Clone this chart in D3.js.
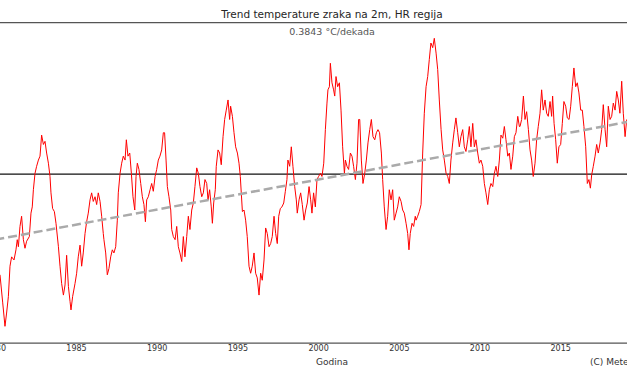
<!DOCTYPE html>
<html lang="hr">
<head>
    <meta charset="UTF-8">
    <title>Trend temperature zraka na 2m, HR regija</title>
    <script src="https://d3js.org/d3.v7.min.js"></script>
    <style>
        body { margin: 0; background: #fff; }
        svg { display: block; font-family: "DejaVu Sans", sans-serif; }
        .tick text { font-size: 8px; fill: #333; }
    </style>
</head>
<body>
    <svg id="chart" width="627" height="376"></svg>
    <script>
        // Anomalija temperature (°C), pomični srednjak, očitano sa slike: [godina, vrijednost]
        const series = [
            [1980.29,-1.29],[1980.46,-1.65],[1980.60,-1.95],[1980.70,-1.78],[1980.81,-1.57],[1980.91,-1.18],
            [1981.01,-1.06],[1981.16,-1.10],[1981.28,-0.97],[1981.36,-0.84],[1981.43,-0.93],[1981.53,-0.67],
            [1981.63,-0.54],[1981.74,-0.84],[1981.84,-0.95],[1981.94,-0.86],[1982.11,-0.80],[1982.21,-0.50],
            [1982.29,-0.42],[1982.36,-0.20],[1982.46,0.01],[1982.56,0.10],[1982.67,0.18],[1982.77,0.23],
            [1982.87,0.50],[1982.98,0.38],[1983.08,0.42],[1983.18,0.27],[1983.29,0.14],[1983.39,-0.03],
            [1983.45,-0.24],[1983.55,-0.44],[1983.66,-0.48],[1983.76,-0.63],[1983.91,-0.93],[1984.01,-1.18],
            [1984.11,-1.40],[1984.22,-1.55],[1984.32,-1.42],[1984.42,-1.04],[1984.53,-1.44],[1984.63,-1.63],
            [1984.69,-1.74],[1984.79,-1.57],[1984.94,-1.40],[1985.04,-1.27],[1985.14,-1.06],[1985.25,-0.91],
            [1985.35,-1.18],[1985.45,-1.01],[1985.56,-0.76],[1985.66,-0.61],[1985.76,-0.50],[1985.87,-0.33],
            [1985.97,-0.24],[1986.07,-0.35],[1986.18,-0.29],[1986.28,-0.39],[1986.38,-0.24],[1986.49,-0.35],
            [1986.59,-0.54],[1986.69,-0.76],
            [1986.73,-0.84],[1986.84,-1.01],[1986.94,-1.29],[1987.04,-1.21],[1987.15,-1.06],[1987.25,-0.97],
            [1987.35,-1.01],[1987.46,-0.93],[1987.56,-0.59],[1987.62,-0.24],[1987.73,0.01],[1987.83,0.14],
            [1987.93,0.23],[1988.04,0.18],[1988.12,0.44],[1988.22,0.23],[1988.33,0.27],[1988.43,0.01],
            [1988.53,-0.29],[1988.64,-0.46],[1988.72,-0.03],[1988.80,0.14],[1988.90,0.06],[1989.01,-0.12],
            [1989.11,-0.29],[1989.21,-0.39],[1989.30,-0.61],[1989.38,-0.33],[1989.48,-0.29],[1989.59,-0.20],
            [1989.69,-0.12],[1989.79,-0.22],[1989.90,-0.03],[1990.00,0.06],[1990.10,0.18],[1990.20,0.23],
            [1990.31,0.31],[1990.41,0.53],[1990.49,0.53],[1990.58,0.18],[1990.66,-0.16],[1990.76,-0.29],
            [1990.87,-0.46],[1990.93,-0.71],[1991.03,-0.80],[1991.14,-0.84],[1991.24,-0.67],[1991.34,-0.93],
            [1991.44,-1.01],[1991.55,-1.12],[1991.65,-0.80],[1991.75,-1.06],[1991.86,-0.80],[1991.96,-0.54],
            [1992.06,-0.71],[1992.17,-0.46],[1992.27,-0.37],[1992.37,-0.16],[1992.48,0.08],[1992.58,0.01],
            [1992.68,-0.16],[1992.79,-0.29],[1992.89,-0.24],[1992.99,-0.07],[1993.10,-0.12],
            [1993.18,-0.33],[1993.28,-0.20],[1993.38,-0.42],[1993.45,-0.63],[1993.53,-0.37],[1993.63,-0.20],
            [1993.69,0.10],[1993.80,0.31],[1993.90,0.27],[1994.00,0.12],[1994.11,0.48],[1994.21,0.70],
            [1994.31,0.82],[1994.42,0.95],[1994.52,0.70],[1994.58,0.87],[1994.69,0.74],[1994.79,0.53],
            [1994.89,0.35],[1995.00,0.27],[1995.10,0.14],[1995.18,-0.03],[1995.24,-0.24],[1995.31,-0.48],
            [1995.41,-0.46],[1995.51,-0.59],[1995.61,-0.80],[1995.72,-1.18],[1995.82,-1.27],[1995.92,-1.18],
            [1996.03,-1.01],[1996.13,-1.27],[1996.23,-1.33],[1996.34,-1.55],[1996.44,-1.27],[1996.54,-1.36],
            [1996.65,-1.10],[1996.75,-0.69],[1996.85,-0.76],[1996.96,-0.93],[1997.06,-0.89],[1997.16,-0.80],
            [1997.27,-0.54],[1997.37,-0.76],[1997.47,-0.89],[1997.56,-0.54],[1997.66,-0.44],[1997.76,-0.42],
            [1997.87,-0.37],[1997.97,-0.22],[1998.07,-0.07],[1998.13,0.18],[1998.24,0.10],[1998.34,0.35],
            [1998.44,0.10],[1998.55,-0.16],[1998.65,-0.33],[1998.71,-0.50],[1998.82,-0.33],[1998.92,-0.24],
            [1999.02,-0.39],[1999.13,-0.59],[1999.23,-0.46],[1999.33,-0.37],[1999.44,-0.16],[1999.54,-0.33],
            [1999.62,-0.50],[1999.72,-0.24],[1999.83,-0.42],[1999.93,-0.07],[2000.03,-0.03],[2000.14,0.01],
            [2000.24,-0.03],[2000.35,0.14],[2000.45,0.57],[2000.55,0.91],[2000.61,1.08],[2000.70,1.12],
            [2000.76,1.42],[2000.86,1.17],[2000.96,1.08],[2001.03,1.00],[2001.11,1.25],[2001.21,1.12],
            [2001.32,1.17],[2001.42,0.82],[2001.52,0.35],[2001.63,0.01],[2001.69,0.18],[2001.79,0.10],
            [2001.89,0.06],[2002.00,0.27],[2002.10,0.23],[2002.20,0.10],[2002.31,-0.07],[2002.41,0.14],
            [2002.51,0.70],[2002.58,0.70],[2002.68,0.18],[2002.78,-0.12],[2002.89,0.01],[2002.99,0.18],
            [2003.09,0.40],[2003.20,0.57],[2003.30,0.70],[2003.40,0.48],[2003.51,0.44],[2003.61,0.53],
            [2003.71,0.57],[2003.81,0.53],[2003.92,0.27],[2004.00,-0.07],[2004.10,-0.42],[2004.21,-0.71],
            [2004.31,-0.54],[2004.41,-0.20],[2004.52,-0.33],[2004.62,-0.20],[2004.72,-0.59],[2004.83,-0.50],
            [2004.93,-0.42],[2005.03,-0.29],[2005.14,-0.35],[2005.24,-0.46],[2005.34,-0.50],[2005.45,-0.63],
            [2005.55,-0.76],[2005.63,-0.97],[2005.71,-0.76],[2005.82,-0.63],[2005.92,-0.67],[2006.02,-0.54],
            [2006.07,-0.59],[2006.17,-0.54],[2006.27,-0.48],[2006.38,-0.39],[2006.48,0.27],[2006.58,0.78],
            [2006.69,1.12],[2006.79,1.25],[2006.89,1.47],[2006.99,1.68],[2007.10,1.62],[2007.20,1.74],
            [2007.31,1.55],[2007.41,1.34],[2007.51,0.95],[2007.62,0.57],[2007.72,0.31],[2007.82,0.18],
            [2007.93,0.01],[2008.03,-0.03],[2008.13,-0.12],[2008.23,0.18],[2008.34,0.40],[2008.44,0.57],
            [2008.54,0.72],[2008.65,0.53],[2008.75,0.35],[2008.85,0.48],[2008.96,0.57],[2009.06,0.35],
            [2009.16,0.29],[2009.27,0.44],[2009.37,0.61],[2009.47,0.35],[2009.58,0.65],[2009.68,0.35],
            [2009.78,0.44],[2009.89,0.27],[2009.99,0.14],[2010.09,0.18],[2010.20,0.10],[2010.30,-0.12],
            [2010.40,-0.24],[2010.51,-0.39],[2010.61,-0.20],[2010.71,-0.12],[2010.82,-0.16],[2010.92,0.01],
            [2011.02,0.10],[2011.13,-0.03],[2011.23,0.18],[2011.33,0.50],[2011.44,0.46],[2011.54,0.61],
            [2011.64,0.44],[2011.75,0.23],[2011.85,0.27],[2011.95,0.06],[2012.06,0.23],[2012.16,0.48],
            [2012.26,0.53],[2012.37,0.74],[2012.47,0.61],
            [2012.51,0.61],[2012.61,0.70],[2012.72,1.00],[2012.82,0.70],[2012.92,0.80],[2013.03,0.57],
            [2013.13,0.31],[2013.23,0.18],[2013.33,-0.03],[2013.44,0.14],[2013.54,0.44],[2013.64,0.61],
            [2013.75,0.78],[2013.85,1.08],[2013.95,0.82],[2014.06,0.95],[2014.16,0.78],[2014.26,0.74],
            [2014.37,0.93],[2014.47,0.74],[2014.53,1.00],[2014.62,0.65],[2014.72,0.44],[2014.82,0.14],
            [2014.92,0.35],[2015.03,0.38],[2015.13,0.65],[2015.23,0.93],[2015.34,0.87],[2015.44,0.72],
            [2015.55,0.70],[2015.65,0.87],[2015.75,1.12],[2015.85,1.36],[2015.96,1.12],[2016.06,1.17],
            [2016.16,1.04],[2016.27,0.82],[2016.37,0.82],[2016.47,0.61],[2016.58,0.35],[2016.68,-0.12],
            [2016.78,-0.07],[2016.87,-0.18],[2016.95,-0.01],[2017.05,0.10],[2017.16,0.23],[2017.26,0.38],
            [2017.36,0.27],[2017.47,0.40],[2017.57,0.57],[2017.67,0.89],[2017.78,0.57],[2017.88,0.35],
            [2017.98,0.87],[2018.09,0.70],[2018.19,0.74],[2018.29,0.91],[2018.40,0.82],[2018.50,1.06],
            [2018.60,0.95],[2018.70,0.78],[2018.81,1.19],[2018.91,0.78],[2019.02,0.48],[2019.12,0.70]
        ];

        // Linearni trend (0.3843 °C/dekada), krajnje točke
        const trendYears = [1980, 2020];
        const trendValues = [-0.84, 0.70];

        const tickYears = [1980, 1985, 1990, 1995, 2000, 2005, 2010, 2015];
        const title = "Trend temperature zraka na 2m, HR regija";
        const subtitle = "0.3843 °C/dekada";
        const xLabel = "Godina";
        const credit = "(C) Meteo";

        const svg = d3.select("#chart");
        const width = +svg.attr("width");

        // Plot area is wider than the picture; only part of it is visible
        const plotTop = 22.7, plotBottom = 342.7;

        const x = d3.scaleLinear()
            .domain([1980, 2020])
            .range([-4.7, 640.9]);

        const y = d3.scaleLinear()
            .domain([-2.16, 1.94])
            .range([plotBottom, plotTop]);

        // Title
        svg.append("text")
            .attr("x", 332)
            .attr("y", 18)
            .attr("text-anchor", "middle")
            .attr("font-size", "10.5px")
            .attr("fill", "#262626")
            .text(title);

        // Top spine
        svg.append("line")
            .attr("x1", 0).attr("x2", width)
            .attr("y1", plotTop).attr("y2", plotTop)
            .attr("stroke", "#555")
            .attr("stroke-width", 1.2);

        svg.append("text")
            .attr("x", 332)
            .attr("y", 34.5)
            .attr("text-anchor", "middle")
            .attr("font-size", "9.5px")
            .attr("fill", "#555")
            .text(subtitle);

        // Zero line
        svg.append("line")
            .attr("x1", 0).attr("x2", width)
            .attr("y1", y(0)).attr("y2", y(0))
            .attr("stroke", "#111")
            .attr("stroke-width", 1.2);

        // Temperature line
        const line = d3.line()
            .x(d => x(d[0]))
            .y(d => y(d[1]));

        svg.append("path")
            .datum(series)
            .attr("fill", "none")
            .attr("stroke", "red")
            .attr("stroke-width", 1)
            .attr("d", line);

        // Trend line
        svg.append("line")
            .attr("x1", x(trendYears[0])).attr("y1", y(trendValues[0]))
            .attr("x2", x(trendYears[1])).attr("y2", y(trendValues[1]))
            .attr("stroke", "#aaa")
            .attr("stroke-width", 2.5)
            .attr("stroke-dasharray", "9,4");

        // Bottom axis (no tick marks)
        const xAxis = svg.append("g")
            .attr("transform", `translate(0,${plotBottom})`)
            .call(d3.axisBottom(x)
                .tickValues(tickYears)
                .tickFormat(d3.format("d"))
                .tickSize(0)
                .tickPadding(3));

        xAxis.select(".domain")
            .attr("stroke", "#555")
            .attr("stroke-width", 1.2);
        xAxis.selectAll(".tick text")
            .attr("font-family", "DejaVu Sans, sans-serif");

        svg.append("text")
            .attr("x", 332)
            .attr("y", 365)
            .attr("text-anchor", "middle")
            .attr("font-size", "9px")
            .attr("fill", "#333")
            .text(xLabel);

        svg.append("text")
            .attr("x", 590)
            .attr("y", 365)
            .attr("font-size", "9px")
            .attr("fill", "#333")
            .text(credit);
    </script>
</body>
</html>
